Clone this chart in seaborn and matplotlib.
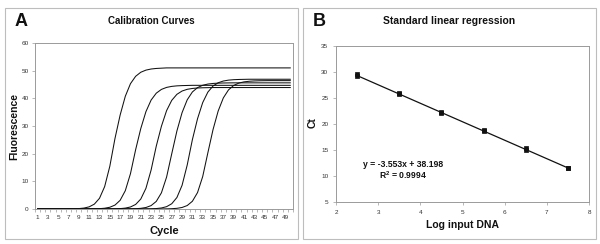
import numpy as np
import pandas as pd
import matplotlib
matplotlib.use("Agg")
import matplotlib.pyplot as plt
from matplotlib.patches import Rectangle
import seaborn as sns

# ---------------- data ----------------
cycles = list(range(1, 51))
run1 = [0, 0, 0, 0, 0, 0, 0.03, 0.06, 0.15, 0.34, 0.78, 1.76, 3.87, 8.11, 15.45, 25.5, 33.96, 40.74, 45.29, 47.96,
        49.43, 50.2, 50.6, 50.8, 50.9, 51.0, 51.0, 51.0, 51.0, 51.0, 51.0, 51.0, 51.0, 51.0, 51.0, 51.0, 51.0, 51.0, 51.0, 51.0,
        51.0, 51.0, 51.0, 51.0, 51.0, 51.0, 51.0, 51.0, 51.0, 51.0]
run2 = [0, 0, 0, 0, 0, 0, 0, 0, 0, 0, 0.02, 0.05, 0.12, 0.28, 0.63, 1.42, 3.14, 6.62, 12.77, 21.42,
        29.08, 35.2, 39.37, 41.86, 43.23, 43.95, 44.32, 44.51, 44.6, 44.65, 44.7, 44.7, 44.7, 44.7, 44.7, 44.7, 44.7, 44.7, 44.7, 44.7,
        44.7, 44.7, 44.7, 44.7, 44.7, 44.7, 44.7, 44.7, 44.7, 44.7]
run3 = [0, 0, 0, 0, 0, 0, 0, 0, 0, 0, 0, 0, 0, 0, 0.02, 0.06, 0.14, 0.32, 0.73, 1.64,
        3.6, 7.48, 14.08, 22.71, 29.91, 35.55, 39.27, 41.45, 42.64, 43.26, 43.57, 43.74, 43.82, 43.86, 43.9, 43.9, 43.9, 43.9, 43.9, 43.9,
        43.9, 43.9, 43.9, 43.9, 43.9, 43.9, 43.9, 43.9, 43.9, 43.9]
run4 = [0, 0, 0, 0, 0, 0, 0, 0, 0, 0, 0, 0, 0, 0, 0, 0, 0, 0.02, 0.05, 0.1,
        0.24, 0.54, 1.23, 2.74, 5.85, 11.53, 19.96, 28.2, 34.82, 39.47, 42.3, 43.88, 44.72, 45.16, 45.38, 45.49, 45.55, 45.58, 45.6, 45.6,
        45.6, 45.6, 45.6, 45.6, 45.6, 45.6, 45.6, 45.6, 45.6, 45.6]
run5 = [0, 0, 0, 0, 0, 0, 0, 0, 0, 0, 0, 0, 0, 0, 0, 0, 0, 0, 0, 0,
        0.01, 0.03, 0.07, 0.16, 0.37, 0.84, 1.9, 4.15, 8.55, 15.91, 25.06, 32.64, 38.46, 42.25, 44.45, 45.63, 46.26, 46.58, 46.74, 46.82,
        46.86, 46.9, 46.9, 46.9, 46.9, 46.9, 46.9, 46.9, 46.9, 46.9]
run6 = [0, 0, 0, 0, 0, 0, 0, 0, 0, 0, 0, 0, 0, 0, 0, 0, 0, 0, 0, 0,
        0, 0, 0, 0, 0.02, 0.05, 0.11, 0.24, 0.55, 1.25, 2.79, 5.95, 11.73, 20.31, 28.69, 35.43, 40.16, 43.05, 44.65, 45.51,
        45.95, 46.17, 46.29, 46.35, 46.38, 46.4, 46.4, 46.4, 46.4, 46.4]
runs = [run1, run2, run3, run4, run5, run6]

log_dna = [2.5, 2.5, 3.5, 3.5, 4.5, 4.5, 5.5, 5.5, 6.5, 6.5, 7.5, 7.5]
ct_vals = [29.2, 29.6, 25.7, 26.0, 22.2, 22.4, 18.7, 18.9, 15.0, 15.4, 11.5, 11.6]
slope = -3.553
intercept = 38.198
r_squared = 0.9994

x_tick_labels = [str(v) for v in range(1, 50, 2)]
a_yticks = [0, 10, 20, 30, 40, 50, 60]
b_xticks = [2, 3, 4, 5, 6, 7, 8]
b_yticks = [5, 10, 15, 20, 25, 30, 35]

# ---------------- style ----------------
sns.set_theme(style="white")
plt.rcParams['font.family'] = ['Liberation Sans', 'DejaVu Sans']
plt.rcParams['mathtext.fontset'] = 'custom'
plt.rcParams['mathtext.rm'] = 'Liberation Sans'
plt.rcParams['mathtext.bf'] = 'Liberation Sans:bold'

W, H = 600, 244
fig = plt.figure(figsize=(6.0, 2.44), dpi=100)

def fx(px):
    return px / W

def fy(py):
    return 1 - py / H

# panel frames
for x0, x1 in [(5, 298), (303, 596)]:
    fig.patches.append(Rectangle((fx(x0), fy(239)), fx(x1 - x0), (239 - 8) / H,
                                 transform=fig.transFigure, fill=False,
                                 edgecolor='#bdbdbd', linewidth=0.8))

spine_col = '#9a9a9a'
tick_col = '#333333'

# ---------------- Panel A ----------------
axA = fig.add_axes([fx(35), fy(209), fx(293 - 35), (209 - 43) / H])
dfA = pd.DataFrame({
    'Cycle': np.tile(cycles, len(runs)),
    'Fluorescence': np.concatenate(runs),
    'run': np.repeat(np.arange(len(runs)), len(cycles)),
})
sns.lineplot(data=dfA, x='Cycle', y='Fluorescence', hue='run', units=None,
             palette=['#111111'] * len(runs), linewidth=0.75, legend=False, ax=axA)
axA.set_xlim(0.5, 50.5)
axA.set_ylim(0, 60)
axA.set_xticks(list(range(1, 50, 2)))
axA.set_xticklabels(x_tick_labels)
axA.set_xticks(np.arange(0.5, 51, 1), minor=True)
axA.set_yticks(a_yticks)
axA.tick_params(axis='x', which='major', length=0, labelsize=4.6, colors=tick_col, pad=4)
axA.tick_params(axis='x', which='minor', length=2, width=0.5, color=spine_col, direction='out', bottom=True)
axA.tick_params(axis='y', which='major', length=2.5, width=0.5, color=spine_col, labelsize=4.6,
                labelcolor=tick_col, direction='out', left=True, pad=2)
axA.set_xlabel('')
axA.set_ylabel('')
for s in axA.spines.values():
    s.set_color(spine_col)
    s.set_linewidth(0.7)

fig.text(fx(151), fy(21), 'Calibration Curves', ha='center', va='center',
         fontsize=7, fontweight='bold', color='#111111')
fig.text(fx(21), fy(21), 'A', ha='center', va='center', fontsize=13, fontweight='bold', color='#111111')
fig.text(fx(14), fy(126), 'Fluorescence', ha='center', va='center', rotation=90,
         fontsize=7.5, fontweight='bold', color='#111111')
fig.text(fx(164), fy(231), 'Cycle', ha='center', va='center',
         fontsize=8, fontweight='bold', color='#111111')

# ---------------- Panel B ----------------
axB = fig.add_axes([fx(336), fy(202), fx(589 - 336), (202 - 46) / H])
fit_x = [min(log_dna), max(log_dna)]
fit_y = [slope * v + intercept for v in fit_x]
sns.lineplot(x=fit_x, y=fit_y, color='#111111', linewidth=0.9, ax=axB)
sns.scatterplot(x=log_dna, y=ct_vals, marker='s', s=6, color='#111111',
                edgecolor='#111111', linewidth=0.5, ax=axB, zorder=3)
axB.set_xlim(2, 8)
axB.set_ylim(5, 35)
axB.set_xticks(b_xticks)
axB.set_yticks(b_yticks)
axB.tick_params(axis='both', which='major', length=2.5, width=0.5, color=spine_col, labelsize=4.6,
                labelcolor=tick_col, direction='out', left=True, bottom=True, pad=3)
for s in axB.spines.values():
    s.set_color(spine_col)
    s.set_linewidth(0.7)

axB.text(2.64, 12.3, f'y = {slope}x + {intercept}', ha='left', va='center',
         fontsize=6.2, fontweight='bold', color='#111111')
axB.text(3.02, 10.1, r'R$^{\mathbf{2}}$' + f' = {r_squared}', ha='left', va='center',
         fontsize=6.2, fontweight='bold', color='#111111')

fig.text(fx(449), fy(21), 'Standard linear regression', ha='center', va='center',
         fontsize=7.5, fontweight='bold', color='#111111')
fig.text(fx(319), fy(21), 'B', ha='center', va='center', fontsize=13, fontweight='bold', color='#111111')
fig.text(fx(313), fy(123), 'Ct', ha='center', va='center', rotation=90,
         fontsize=7.5, fontweight='bold', color='#111111')
fig.text(fx(463), fy(225), 'Log input DNA', ha='center', va='center',
         fontsize=7.5, fontweight='bold', color='#111111')

fig.savefig('out.png', dpi=100)
